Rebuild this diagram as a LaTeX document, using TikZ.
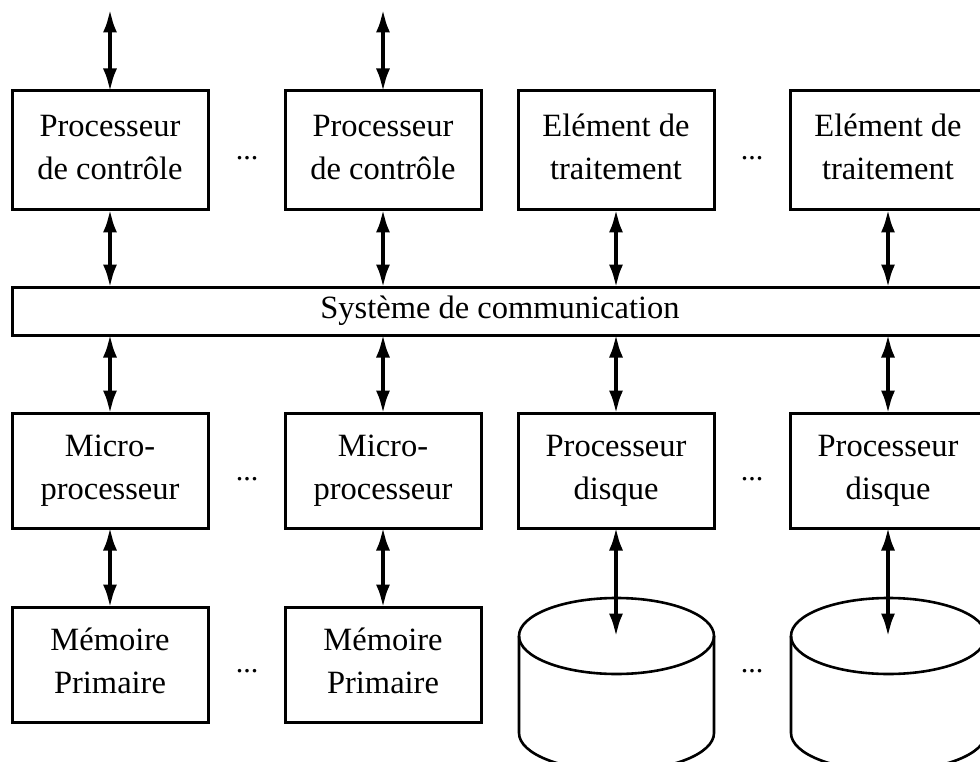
\documentclass[tikz,border=0pt]{standalone}
\usepackage{fontspec}
\setmainfont{Liberation Serif}
\usetikzlibrary{arrows.meta}
% keeps boxes with and without descenders on the same baselines
\newcommand{\lastline}{\vphantom{p}}
\begin{document}
\begin{tikzpicture}[x=1pt,y=1pt,
  unit/.style={draw, line width=3pt, minimum width=196pt, minimum height=115pt,
    align=center, inner sep=0pt, outer sep=0pt, font=\fontsize{32.5}{43}\selectfont},
  busbox/.style={draw, line width=3pt, minimum width=976pt, minimum height=48pt,
    inner sep=0pt, outer sep=0pt, font=\fontsize{32.5}{43}\selectfont},
  link/.style={line width=4.5pt, shorten <=-1.5pt, shorten >=-1.5pt,
    {Latex[length=24pt,width=14pt]}-{Latex[length=24pt,width=14pt]}},
  disk/.style={line width=2.6pt},
  more/.style={font=\fontsize{30}{36}\selectfont, anchor=base, inner sep=0pt},
]
\useasboundingbox (0,0) rectangle (980,-762);
\clip (0,0) rectangle (980,-762);

% control processors and processing elements
\node[unit, minimum height=119pt] (pc1) at (110,-150.5) {Processeur\\de contrôle\lastline};
\node[unit, minimum height=119pt] (pc2) at (383,-150.5) {Processeur\\de contrôle\lastline};
\node[unit, minimum height=119pt] (pe1) at (616,-150.5) {Elément de\\traitement\lastline};
\node[unit, minimum height=119pt] (pe2) at (888,-150.5) {Elément de\\traitement\lastline};
\node[more] (dots1) at (247,-160) {...};
\node[more] (dots2) at (752,-160) {...};

% communication bus
\node[busbox] (bus) at (500,-311) {Système de communication};

% microprocessors and disk processors
\node[unit] (mp1) at (110,-470.5) {Micro-\\processeur\lastline};
\node[unit] (mp2) at (383,-470.5) {Micro-\\processeur\lastline};
\node[unit] (pd1) at (616,-470.5) {Processeur\\disque\lastline};
\node[unit] (pd2) at (888,-470.5) {Processeur\\disque\lastline};
\node[more] (dots3) at (247,-480) {...};
\node[more] (dots4) at (752,-480) {...};

% primary memories
\node[unit] (mem1) at (110,-664.5) {Mémoire\\Primaire\lastline};
\node[unit] (mem2) at (383,-664.5) {Mémoire\\Primaire\lastline};
\node[more] (dots5) at (247,-672) {...};
\node[more] (dots6) at (752,-672) {...};

% disks
\coordinate (d1) at (616.5,-636);
\coordinate (d2) at (888.5,-636);
\foreach \d in {d1,d2}{
  \draw[disk] ([xshift=-97.5pt]\d) -- ++(0,-97)
    arc[start angle=180, end angle=360, x radius=97.5pt, y radius=38pt] -- ++(0,97);
  \draw[disk] (\d) ellipse [x radius=97.5pt, y radius=38pt];
}

% external links of the control processors
\coordinate (ext1) at (110,-10);
\coordinate (ext2) at (383,-10);
\draw[link] (pc1.north) -- (ext1);
\draw[link] (pc2.north) -- (ext2);

% links to the bus
\foreach \n in {pc1,pc2,pe1,pe2}
  \draw[link] (\n.south) -- (\n.south |- bus.north);
\foreach \n in {mp1,mp2,pd1,pd2}
  \draw[link] (\n.north |- bus.south) -- (\n.north);

% microprocessor to memory, disk processor to disk
\draw[link] (mp1.south) -- (mem1.north);
\draw[link] (mp2.south) -- (mem2.north);
\draw[link] (pd1.south) -- (pd1.south |- d1);
\draw[link] (pd2.south) -- (pd2.south |- d2);
\end{tikzpicture}
\end{document}
